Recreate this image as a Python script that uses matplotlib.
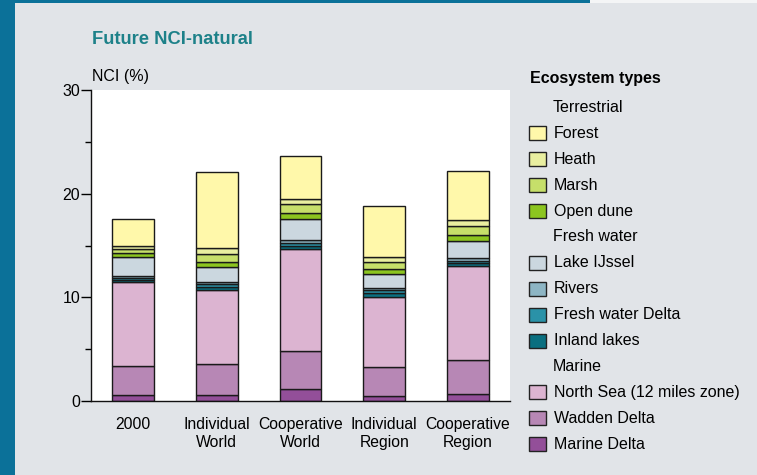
import numpy as np
import matplotlib
matplotlib.use('Agg')
import matplotlib.pyplot as plt
from matplotlib.patches import Rectangle
from matplotlib.ticker import MultipleLocator

plt.rcParams['font.family'] = ['Liberation Sans', 'DejaVu Sans']

# Data (NCI %)
categories = ['2000', 'Individual\nWorld', 'Cooperative\nWorld', 'Individual\nRegion', 'Cooperative\nRegion']
marine_delta = [0.58, 0.58, 1.16, 0.48, 0.71]
wadden_delta = [2.83, 2.99, 3.66, 2.80, 3.24]
north_sea = [8.04, 7.14, 9.84, 6.78, 9.04]
inland_lakes = [0.22, 0.32, 0.32, 0.39, 0.29]
fresh_water_delta = [0.23, 0.22, 0.23, 0.26, 0.22]
rivers = [0.19, 0.20, 0.32, 0.16, 0.33]
lake_ijssel = [1.77, 1.45, 2.03, 1.35, 1.64]
open_dune = [0.39, 0.54, 0.54, 0.48, 0.57]
marsh = [0.38, 0.74, 0.87, 0.74, 0.84]
heath = [0.32, 0.55, 0.49, 0.48, 0.61]
forest = [2.64, 7.33, 4.21, 4.92, 4.66]

# stacking order bottom -> top
series = [
    ('Marine Delta', marine_delta, '#934f99'),
    ('Wadden Delta', wadden_delta, '#b787b5'),
    ('North Sea (12 miles zone)', north_sea, '#dcb4d1'),
    ('Inland lakes', inland_lakes, '#0a6f80'),
    ('Fresh water Delta', fresh_water_delta, '#2a92a8'),
    ('Rivers', rivers, '#8db5c4'),
    ('Lake IJssel', lake_ijssel, '#cbd7df'),
    ('Open dune', open_dune, '#8cc51f'),
    ('Marsh', marsh, '#c6df6a'),
    ('Heath', heath, '#e9efa0'),
    ('Forest', forest, '#fff8aa'),
]
colors = {name: c for name, _, c in series}

W, H = 757, 475
bg = '#e1e4e8'
fig = plt.figure(figsize=(W / 100, H / 100), dpi=100, facecolor=bg)

def fx(x):
    return x / W

def fy(y):
    return 1 - y / H

# frame decorations
fig.add_artist(Rectangle((0, 0), fx(15), 1, transform=fig.transFigure,
                         color='#0b7199', lw=0))
fig.add_artist(Rectangle((0, fy(3)), fx(590), 3 / H, transform=fig.transFigure,
                         color='#0b7199', lw=0))
fig.add_artist(Rectangle((fx(590), fy(3)), fx(167), 3 / H, transform=fig.transFigure,
                         color='#f4f5f6', lw=0))

ax = fig.add_axes([fx(91), fy(401), fx(510) - fx(91), fy(90) - fy(401)])
ax.set_facecolor('white')

x = np.arange(len(categories))
bottom = np.zeros(len(categories))
for name, vals, c in series:
    ax.bar(x, vals, 0.5, bottom=bottom, color=c, edgecolor='#1a1a1a', linewidth=1.0)
    bottom += np.array(vals)

ax.set_xlim(-0.5, 4.5)
ax.set_ylim(0, 30)
ax.yaxis.set_major_locator(MultipleLocator(10))
ax.yaxis.set_minor_locator(MultipleLocator(5))
ax.set_xticks(x)
ax.set_xticklabels(categories, fontsize=11.3, linespacing=1.25)
ax.tick_params(axis='x', length=0, pad=11.5)
ax.tick_params(axis='y', which='major', length=7.2, width=1, pad=0.5, labelsize=11.5)
ax.tick_params(axis='y', which='minor', length=4.3, width=1)
for s in ['top', 'right']:
    ax.spines[s].set_visible(False)
for s in ['left', 'bottom']:
    ax.spines[s].set_linewidth(1.0)
    ax.spines[s].set_color('#111111')

# titles
fig.text(fx(92), fy(40), 'Future NCI-natural', fontsize=13.2, fontweight='bold',
         color='#1d8189', va='center', ha='left')
fig.text(fx(92), fy(77), 'NCI (%)', fontsize=11.5, va='center', ha='left')

# legend
fig.text(fx(530), fy(79), 'Ecosystem types', fontsize=11.5, fontweight='bold',
         va='center', ha='left')
legend_rows = ['Terrestrial', 'Forest', 'Heath', 'Marsh', 'Open dune',
               'Fresh water', 'Lake IJssel', 'Rivers', 'Fresh water Delta', 'Inland lakes',
               'Marine', 'North Sea (12 miles zone)', 'Wadden Delta', 'Marine Delta']
y0, dy = 107.5, 25.9
for i, label in enumerate(legend_rows):
    yc = y0 + i * dy
    if label in colors:
        fig.add_artist(Rectangle((fx(529), fy(yc + 7)), 17 / W, 14 / H,
                                 transform=fig.transFigure, facecolor=colors[label],
                                 edgecolor='#222222', lw=1.0))
        fig.text(fx(554), fy(yc), label, fontsize=11.5, va='center', ha='left')
    else:
        fig.text(fx(553), fy(yc), label, fontsize=11.5, va='center', ha='left')

plt.savefig('out.png', dpi=100, facecolor=bg)
plt.close()
